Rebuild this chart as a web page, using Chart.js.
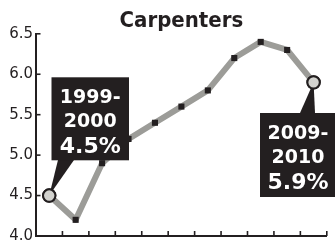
<!DOCTYPE html>
<html>
<head>
<meta charset="utf-8">
<script src="https://cdn.jsdelivr.net/npm/chart.js@4/dist/chart.umd.min.js"></script>
<style>
  html, body { margin: 0; padding: 0; background: #ffffff; }
  #wrap { position: relative; width: 335px; height: 248px; }
</style>
</head>
<body>
<div id="wrap"><canvas id="c" width="335" height="248"></canvas></div>
<script>
// ---- data ----
const chartTitle = 'Carpenters';
const seasons = ['1999-2000', '2000-2001', '2001-2002', '2002-2003', '2003-2004', '2004-2005',
                 '2005-2006', '2006-2007', '2007-2008', '2008-2009', '2009-2010'];
const rates = [4.5, 4.2, 4.9, 5.2, 5.4, 5.6, 5.8, 6.2, 6.4, 6.3, 5.9];
const yTickValues = [4.0, 4.5, 5.0, 5.5, 6.0, 6.5];
const calloutIndexes = [0, 10];

// ---- style ----
const INK = '#231f20';
const LINE_GRAY = '#9c9c98';
const END_FILL = '#d3d3cf';

const lastIdx = rates.length - 1;
const isEnd = i => i === 0 || i === lastIdx;

function calloutLines(i) {
  const parts = seasons[i].split('-');
  return [parts[0] + '-', parts[1], rates[i].toFixed(1) + '%'];
}

// layout of the callout boxes (pixels)
const calloutBoxes = [
  { index: calloutIndexes[0], x: 51.5, y: 77.3, w: 77.5, h: 83, baseY: 160, baseL: 58, baseR: 74 },
  { index: calloutIndexes[1], x: 260, y: 113, w: 76, h: 84, baseY: 113, baseL: 300, baseR: 315 }
];

const innerTicksPlugin = {
  id: 'innerTicks',
  afterDraw(chart) {
    const ctx = chart.ctx;
    const xs = chart.scales.x, ys = chart.scales.y;
    const n = xs.getLabels().length;
    ctx.save();
    ctx.strokeStyle = INK;
    ctx.lineWidth = 1.6;
    for (let k = 1; k <= n; k++) {
      const px = xs.left + k * (xs.width / n);
      ctx.beginPath();
      ctx.moveTo(px, xs.top);
      ctx.lineTo(px, xs.top - 5);
      ctx.stroke();
    }
    ys.ticks.forEach(t => {
      const py = ys.getPixelForValue(t.value);
      ctx.beginPath();
      ctx.moveTo(ys.right, py);
      ctx.lineTo(ys.right + 4.5, py);
      ctx.stroke();
    });
    ctx.restore();
  }
};

const calloutPlugin = {
  id: 'callouts',
  afterDatasetsDraw(chart) {
    const ctx = chart.ctx;
    const meta = chart.getDatasetMeta(0);
    calloutBoxes.forEach(b => {
      const pt = meta.data[b.index];
      const lines = calloutLines(b.index);
      ctx.save();
      ctx.fillStyle = INK;
      ctx.beginPath();
      ctx.moveTo(b.baseL, b.baseY);
      ctx.lineTo(b.baseR, b.baseY);
      ctx.lineTo(pt.x, pt.y);
      ctx.closePath();
      ctx.fill();
      ctx.fillRect(b.x, b.y, b.w, b.h);
      ctx.fillStyle = '#ffffff';
      ctx.textAlign = 'center';
      ctx.textBaseline = 'alphabetic';
      const cx = b.x + b.w / 2;
      ctx.font = "bold 19px 'DejaVu Sans', sans-serif";
      ctx.fillText(lines[0], cx, b.y + 25.5);
      ctx.fillText(lines[1], cx, b.y + 49.5);
      ctx.font = "bold 22px 'DejaVu Sans', sans-serif";
      ctx.fillText(lines[2], cx, b.y + 76);
      ctx.restore();
      pt.draw(ctx, chart.chartArea);
    });
  }
};

new Chart(document.getElementById('c'), {
  type: 'line',
  data: {
    labels: seasons,
    datasets: [{
      data: rates,
      borderColor: LINE_GRAY,
      borderWidth: 6,
      borderJoinStyle: 'round',
      tension: 0,
      fill: false,
      clip: false,
      pointStyle: rates.map((v, i) => isEnd(i) ? 'circle' : 'rect'),
      pointRadius: rates.map((v, i) => isEnd(i) ? 6.2 : 4.3),
      pointBackgroundColor: rates.map((v, i) => isEnd(i) ? END_FILL : INK),
      pointBorderColor: INK,
      pointBorderWidth: rates.map((v, i) => isEnd(i) ? 2 : 0),
      pointHoverRadius: 0
    }]
  },
  options: {
    responsive: false,
    animation: false,
    events: [],
    layout: { padding: { left: 0, right: 5, top: 0, bottom: 0 } },
    plugins: {
      legend: { display: false },
      tooltip: { enabled: false },
      title: {
        display: true,
        text: chartTitle,
        fullSize: false,
        color: INK,
        font: { family: "'DejaVu Sans Condensed', 'DejaVu Sans', sans-serif", size: 22, weight: 'bold', lineHeight: 1.2 },
        padding: { top: 8, bottom: -0.6 }
      }
    },
    scales: {
      x: {
        type: 'category',
        offset: true,
        grid: { display: true, drawOnChartArea: false, drawTicks: false, offset: true, color: 'rgba(0,0,0,0)' },
        border: { display: true, color: INK, width: 2 },
        ticks: { display: false },
        afterFit(scale) { scale.height = 6.5; }
      },
      y: {
        min: 4.0,
        max: 6.5,
        afterBuildTicks(scale) { scale.ticks = yTickValues.map(v => ({ value: v })); },
        grid: { display: true, drawOnChartArea: false, drawTicks: false, color: 'rgba(0,0,0,0)' },
        border: { display: true, color: INK, width: 2 },
        ticks: {
          color: INK,
          padding: 3,
          font: { family: "'DejaVu Sans', sans-serif", size: 15 },
          callback: v => Number(v).toFixed(1)
        },
        afterFit(scale) { scale.width = 36; }
      }
    }
  },
  plugins: [innerTicksPlugin, calloutPlugin]
});
</script>
</body>
</html>
